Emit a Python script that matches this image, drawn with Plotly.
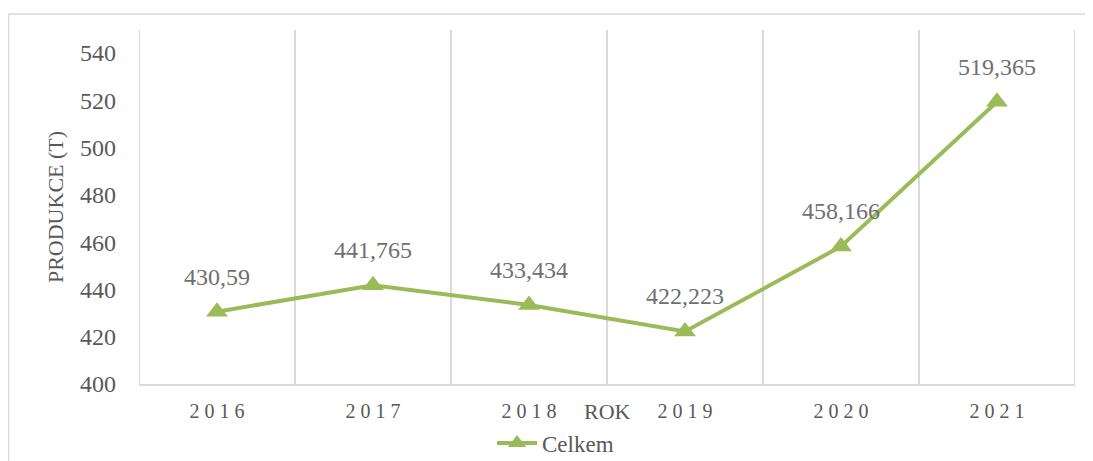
import plotly.graph_objects as go

years = ["2016", "2017", "2018", "2019", "2020", "2021"]
values = [430.59, 441.765, 433.434, 422.223, 458.166, 519.365]
y_ticks = [400, 420, 440, 460, 480, 500, 520, 540]
series_name = "Celkem"
x_title = "ROK"
y_title = "PRODUKCE (T)"

GREEN = "#9BBB59"
FONT = "Liberation Serif"

# page has 8px body margin; figure origin sits at (8, 8)
OFF = 8
W, H = 1093 - OFF, 461 - OFF
L, T = 139 - OFF, 30 - OFF
R = W - (1075 - OFF)
B = H - (384 - OFF)
pw = W - L - R
ph = H - T - B


def py(page_y):
    """page pixel y -> paper coordinate"""
    return (H - B - (page_y - OFF)) / ph


def px(page_x):
    return (page_x - OFF - L) / pw


labels = [str(v).replace(".", ",") for v in values]
ticktext = [" ".join(y) for y in years]

fig = go.Figure()
fig.add_trace(go.Scatter(
    x=years, y=values, mode="lines+markers", name=series_name,
    line=dict(color=GREEN, width=4),
    marker=dict(symbol="triangle-up", size=19, color=GREEN),
))

for i, (v, t) in enumerate(zip(values, labels)):
    fig.add_annotation(x=i, y=v, xref="x", yref="y", text=t, showarrow=False,
                       yshift=35,
                       font=dict(family=FONT, size=24, color="#707070"))

fig.add_annotation(xref="paper", yref="paper", x=0.5, y=py(411),
                   yanchor="middle", text=x_title, showarrow=False,
                   font=dict(family=FONT, size=22, color="#595959"))

# outer chart border (top and left edges visible)
fig.add_shape(type="line", xref="paper", yref="paper",
              x0=px(8.5), x1=px(1100), y0=py(14), y1=py(14),
              line=dict(color="#D9D9D9", width=1.5))
fig.add_shape(type="line", xref="paper", yref="paper",
              x0=px(8.5), x1=px(8.5), y0=py(14), y1=py(470),
              line=dict(color="#D9D9D9", width=1.5))

fig.update_layout(
    width=W, height=H,
    margin=dict(l=L, r=R, t=T, b=B, autoexpand=False),
    paper_bgcolor="white", plot_bgcolor="white",
    showlegend=True,
    legend=dict(orientation="h", x=px(492), xanchor="left", y=py(443),
                yanchor="middle", font=dict(family=FONT, size=23, color="#595959"),
                itemwidth=40, bgcolor="rgba(0,0,0,0)"),
    xaxis=dict(
        type="category", tickvals=years, ticktext=ticktext,
        showgrid=False, zeroline=False,
        showline=True, linecolor="#D9D9D9", linewidth=2,
        ticks="", ticklabelstandoff=8,
        tickfont=dict(family=FONT, size=20, color="#595959"),
        range=[-0.5, len(years) - 0.5],
    ),
    yaxis=dict(
        range=[400, 549.7], tickvals=y_ticks,
        showgrid=False, zeroline=False, showline=False,
        ticks="", ticklabelstandoff=22,
        tickfont=dict(family=FONT, size=24, color="#595959"),
        title=dict(text=y_title, font=dict(family=FONT, size=22, color="#595959"),
                   standoff=10),
    ),
)

# vertical category boundary gridlines
for i in range(len(years) + 1):
    fig.add_shape(type="line", xref="x", yref="paper",
                  x0=i - 0.5, x1=i - 0.5, y0=0, y1=1,
                  line=dict(color="#D9D9D9", width=2), layer="below")

fig.write_html("out.html")
